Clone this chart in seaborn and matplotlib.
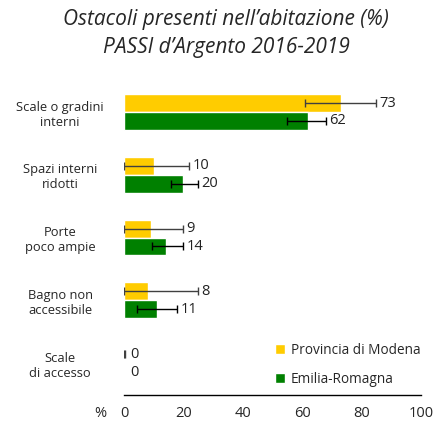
import pandas as pd
import seaborn as sns
import matplotlib.pyplot as plt
from matplotlib.patches import Patch

# data
categories = ["Scale o gradini\ninterni", "Spazi interni\nridotti", "Porte\npoco ampie",
              "Bagno non\naccessibile", "Scale\ndi accesso"]
modena = [73, 10, 9, 8, 0]
modena_lo = [61, 0, 0, 0, 0]
modena_hi = [85, 22, 20, 25, 0.3]
emilia = [62, 20, 14, 11, 0]
emilia_lo = [55, 16, 9.5, 4.5, 0]
emilia_hi = [68, 25, 20, 18, 0]
series = ["Provincia di Modena", "Emilia-Romagna"]
colors = ["#FFCC00", "#008000"]

df = pd.DataFrame({
    "cat": categories * 2,
    "val": modena + emilia,
    "area": [series[0]] * 5 + [series[1]] * 5,
})

sns.set_style("white")
plt.rcParams["font.family"] = ["Open Sans", "DejaVu Sans"]

fig = plt.figure(figsize=(4.38, 4.23), dpi=100)
ax = fig.add_axes([0.283, 0.066, 0.678, 0.733])

bar_w = 0.57
sns.barplot(data=df, x="val", y="cat", hue="area", palette=colors, orient="h",
            width=bar_w, errorbar=None, legend=False, ax=ax, saturation=1)

lows = [modena_lo, emilia_lo]
highs = [modena_hi, emilia_hi]
vals = [modena, emilia]
ecols = ["#404040", "black"]
for k in range(2):
    for i in range(len(categories)):
        yc = i + (k - 0.5) * bar_w / 2
        v, lo, hi = vals[k][i], lows[k][i], highs[k][i]
        if hi > lo:
            ax.errorbar(v, yc, xerr=[[v - lo], [hi - v]], fmt="none",
                        ecolor=ecols[k], elinewidth=1, capsize=3, capthick=1)
        ax.text(max(hi + 1.0, 2.2), yc, str(v),
                va="center", ha="left", fontsize=10.5, color="#222222")

ax.set_xlim(0, 100)
ax.set_ylim(4.51, -0.43)
ax.set_xticks([0, 20, 40, 60, 80, 100])
ax.set_xlabel("")
ax.set_ylabel("")
for s in ["top", "right", "left"]:
    ax.spines[s].set_visible(False)
ax.spines["bottom"].set_color("black")
ax.spines["bottom"].set_linewidth(1)
ax.tick_params(axis="x", length=4, width=1, color="black", labelsize=10.5, pad=4)
ax.tick_params(axis="y", length=0, pad=46, labelsize=9.3)
for lab in ax.get_yticklabels():
    lab.set_ha("center")
    lab.set_multialignment("center")

fig.text(100 / 438, 1 - 413 / 423, "%", ha="center", va="center", fontsize=10.5)

handles = [Patch(facecolor=c, label=s) for c, s in zip(colors, series)]
ax.legend(handles=handles, loc="lower right", bbox_to_anchor=(1.04, -0.012),
          frameon=False, handlelength=0.75, handleheight=0.75, handletextpad=0.45,
          labelspacing=1.0, fontsize=9.8)

fig.text(0.516, 1 - 20 / 423, "Ostacoli presenti nell\u2019abitazione (%)",
         ha="center", va="center", fontsize=15, style="italic")
fig.text(0.516, 1 - 48 / 423, "PASSI d\u2019Argento 2016-2019",
         ha="center", va="center", fontsize=15, style="italic")

fig.savefig("out.png", dpi=100)
